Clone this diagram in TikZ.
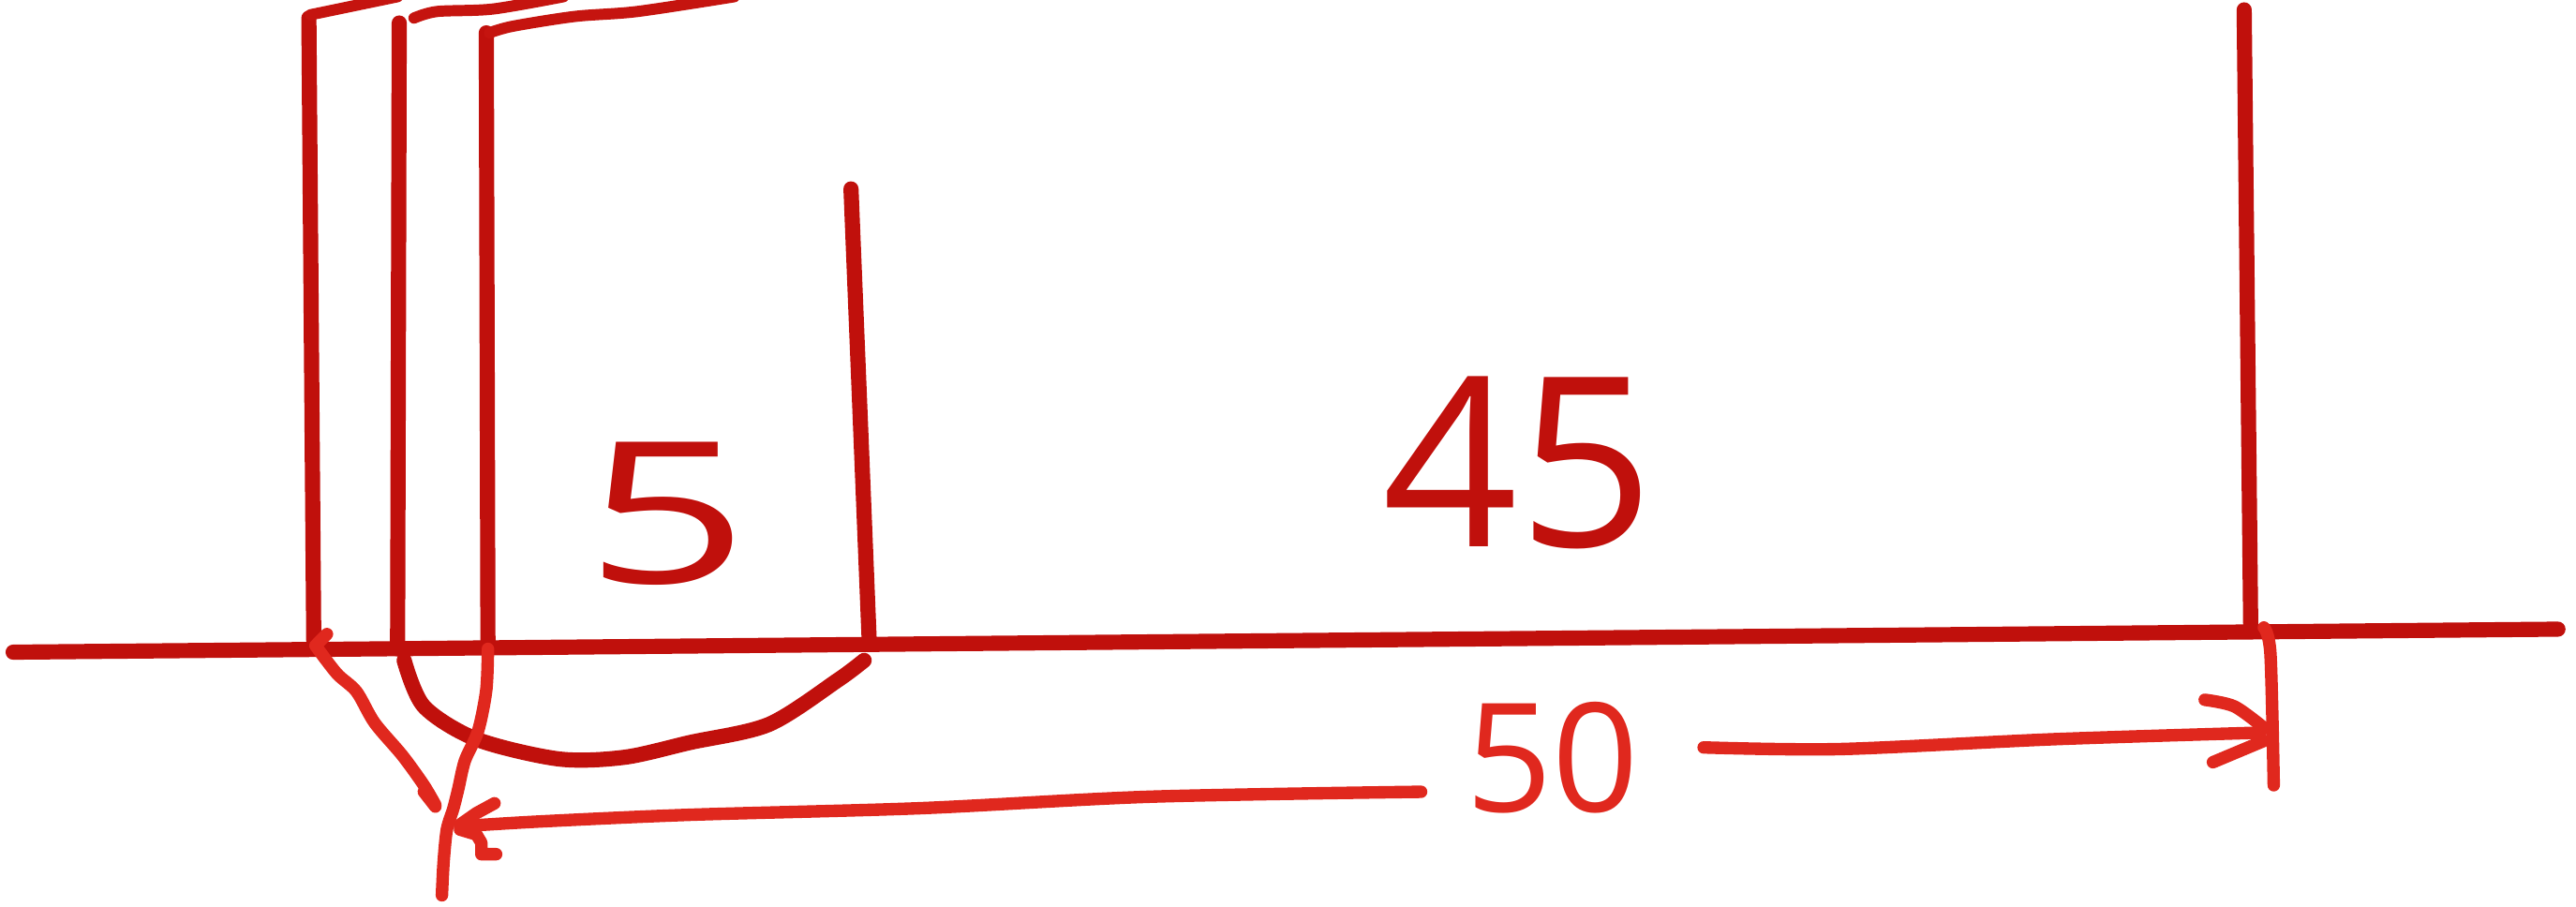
\documentclass[tikz,border=0pt]{standalone}
\usepackage{fontspec}
\setsansfont{Open Sans}
\definecolor{dred}{RGB}{192,16,12}
\definecolor{bred}{RGB}{224,40,30}
\begin{document}
\begin{tikzpicture}[x=0.017532cm,y=-0.017532cm,
  wall/.style={draw=dred,line width=4.6pt,line cap=round,line join=round},
  dim/.style={draw=bred,line width=3.8pt,line cap=round,line join=round},
  topedge/.style={draw=dred!85!bred,line width=3.4pt,line cap=round,line join=round},
  numdark/.style={text=dred,font=\sffamily\fontsize{#1}{#1}\selectfont,inner sep=0pt},
  numbright/.style={text=bred,font=\sffamily\fontsize{#1}{#1}\selectfont,inner sep=0pt}]
\useasboundingbox (0,0) rectangle (1568,552);
% ground line
\coordinate (g1) at (8,397);
\coordinate (g2) at (1557,383);
\draw[wall] (g1) -- (g2);
% vertical lines
\coordinate (v1t) at (188,11); \coordinate (v1b) at (191,392);
\coordinate (v2t) at (243,14); \coordinate (v2b) at (242,395);
\coordinate (v3t) at (296,20); \coordinate (v3b) at (297,395);
\coordinate (v4t) at (518,115); \coordinate (v4b) at (529,388);
\coordinate (v5t) at (1366,6); \coordinate (v5b) at (1370,383);
\draw[wall] (v1t) -- (v1b);
\draw[wall] (v2t) -- (v2b);
\draw[wall] (v3t) -- (v3b);
\draw[wall] (v4t) -- (v4b);
\draw[wall] (v5t) -- (v5b);
% top slants
\draw[topedge] (189,9) -- (242,-2);
\draw[topedge] plot[smooth] coordinates {(252,11) (266,7) (300,5.5) (343,-2)};
\draw[topedge] plot[smooth] coordinates {(298,20) (312,16) (350,10) (388,7) (447,-2)};
% arc under the 5
\draw[wall] plot[smooth] coordinates {(246,402) (258,430) (290,450) (340,462) (380,461) (420,452) (468,441) (510,414) (526,402)};
% left slanted arrow
\draw[dim] plot[smooth] coordinates {(192,393) (205,410) (217,421) (228,440) (245,460) (258,478) (265,490)};
\draw[dim] (258,482) -- (265,491);
\draw[dim] (193,392) -- (199,386);
% extension of v3
\draw[dim] plot[smooth] coordinates {(297,395) (296,420) (291,445) (283,463) (279,480) (276,492) (272,505) (270,525) (269,545)};
% 50 arrow left part
\draw[dim] plot[smooth] coordinates {(865,482) (700,485) (560,492) (420,496) (330,500) (280,503)};
\draw[dim] (301,489) -- (290,495) -- (280,502);
\draw[dim] (280,505) -- (290,508) -- (293,513) -- (293,520) -- (302,520);
% 50 arrow right part
\draw[dim] plot[smooth] coordinates {(1037,455) (1120,456) (1250,450) (1376,446)};
\draw[dim] plot[smooth] coordinates {(1342,426) (1360,430) (1378,443)};
\draw[dim] (1347,464) -- (1378,451);
\draw[dim] plot[smooth] coordinates {(1378,382) (1382,398) (1384,478)};
% labels
\node[numdark=60pt,xscale=1.45] (five) at (406,313) {5};
\node[numdark=72pt] (fortyfive) at (924,282) {45};
\node[numbright=46pt] (fifty) at (945,461) {50};
\end{tikzpicture}
\end{document}
